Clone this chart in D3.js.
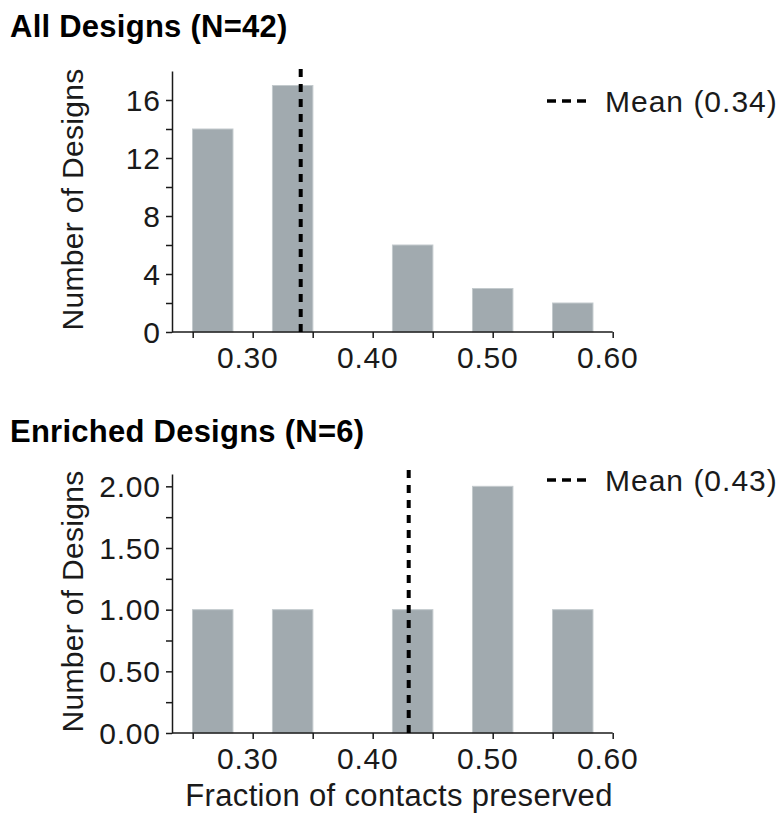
<!DOCTYPE html>
<html>
<head>
<meta charset="utf-8">
<script src="https://cdn.jsdelivr.net/npm/d3@7"></script>
<style>
  html, body { margin: 0; padding: 0; background: #fff; }
  svg { display: block; font-family: "Liberation Sans", Arial, Helvetica, sans-serif; }
</style>
</head>
<body>
<svg id="chart" width="778" height="820"></svg>
<script>
// Bin centres (fraction of contacts preserved) and bin width
const binCenters = [0.2667, 0.3333, 0.4333, 0.5, 0.5667];
const binWidth = 0.0337;

// Counts per bin
const allCounts = [14, 17, 6, 3, 2];
const enrichedCounts = [1, 1, 1, 2, 1];

// Means
const allMean = 0.34;
const enrichedMean = 0.43;

// Tick values
const xTickValues = [0.25, 0.30, 0.35, 0.40, 0.45, 0.50, 0.55, 0.60];
const xLabelValues = [0.30, 0.40, 0.50, 0.60];
const allYTicks = [0, 2, 4, 6, 8, 10, 12, 14, 16];
const allYLabels = [0, 4, 8, 12, 16];
const enrichedYTicks = [0, 0.25, 0.5, 0.75, 1, 1.25, 1.5, 1.75, 2];
const enrichedYLabels = [0, 0.5, 1, 1.5, 2];

const panels = [
  { title: "All Designs (N=42)", counts: allCounts, mean: allMean,
    yMax: 18, top: 71, bottom: 332, yTicks: allYTicks, yLabels: allYLabels,
    yFmt: d3.format("d"), titleY: 37, legendY: 101, meanTop: 69 },
  { title: "Enriched Designs (N=6)", counts: enrichedCounts, mean: enrichedMean,
    yMax: 2.1, top: 474, bottom: 733, yTicks: enrichedYTicks, yLabels: enrichedYLabels,
    yFmt: d3.format(".2f"), titleY: 442, legendY: 480, meanTop: 470 }
];

const svg = d3.select("#chart");
const x = d3.scaleLinear().domain([0.25, 0.60]).range([192.7, 612.7]);
const axisX = 172;
const ink = "#1a1a1a";

panels.forEach((p, i) => {
  const y = d3.scaleLinear().domain([0, p.yMax]).range([p.bottom, p.top]);
  const g = svg.append("g");

  // panel title
  g.append("text")
    .attr("x", 10).attr("y", p.titleY)
    .attr("font-size", 31).attr("font-weight", "bold").attr("fill", "#000")
    .attr("letter-spacing", 0.25)
    .text(p.title);

  // bars
  g.selectAll("rect.bar")
    .data(p.counts.map((c, j) => ({ c: c, x0: binCenters[j] - binWidth / 2, x1: binCenters[j] + binWidth / 2 })))
    .join("rect")
    .attr("class", "bar")
    .attr("x", d => x(d.x0))
    .attr("width", d => x(d.x1) - x(d.x0))
    .attr("y", d => y(d.c))
    .attr("height", d => y(0) - y(d.c))
    .attr("fill", "#a1aaaf")
    .attr("stroke", "#c3cacd")
    .attr("stroke-width", 1);

  // x axis
  const xAxis = g.append("g").attr("transform", `translate(0,${p.bottom})`)
    .call(d3.axisBottom(x).tickValues(xTickValues).tickSize(6).tickSizeOuter(0).tickFormat(""));
  xAxis.select(".domain").attr("d", `M${axisX},0H${x(0.60)}`);
  xAxis.selectAll("path, line").attr("stroke", ink).attr("stroke-width", 1.5);

  g.selectAll("text.xlab")
    .data(xLabelValues)
    .join("text")
    .attr("class", "xlab")
    .attr("x", d => x(d)).attr("dx", -5)
    .attr("y", p.bottom + 36)
    .attr("text-anchor", "middle")
    .attr("font-size", 30).attr("fill", ink)
    .attr("letter-spacing", 0.8)
    .text(d => d3.format(".2f")(d));

  // y axis
  const yAxis = g.append("g").attr("transform", `translate(${axisX},0)`)
    .call(d3.axisLeft(y).tickValues(p.yTicks).tickSize(6).tickSizeOuter(0).tickFormat(""));
  yAxis.selectAll("path, line").attr("stroke", ink).attr("stroke-width", 1.5);

  g.selectAll("text.ylab")
    .data(p.yLabels)
    .join("text")
    .attr("class", "ylab")
    .attr("x", axisX - 11.2)
    .attr("y", d => y(d))
    .attr("dy", "0.36em")
    .attr("text-anchor", "end")
    .attr("font-size", 30).attr("fill", ink)
    .attr("letter-spacing", 0.8)
    .text(d => p.yFmt(d));

  // y axis title
  g.append("text")
    .attr("transform", `translate(83,${(p.top + p.bottom) / 2 - 2}) rotate(-90)`)
    .attr("text-anchor", "middle")
    .attr("font-size", 30).attr("fill", ink)
    .attr("letter-spacing", 0.3)
    .text("Number of Designs");

  // mean line
  g.append("line")
    .attr("x1", x(p.mean)).attr("x2", x(p.mean))
    .attr("y1", p.meanTop).attr("y2", p.bottom)
    .attr("stroke", "#000").attr("stroke-width", 4)
    .attr("stroke-dasharray", "8,7");

  // legend
  g.append("line")
    .attr("x1", 547).attr("x2", 587)
    .attr("y1", p.legendY).attr("y2", p.legendY)
    .attr("stroke", "#000").attr("stroke-width", 3.5)
    .attr("stroke-dasharray", "9,6");
  g.append("text")
    .attr("x", 605).attr("y", p.legendY).attr("dy", "0.36em")
    .attr("font-size", 30).attr("fill", ink)
    .attr("letter-spacing", 1.0)
    .text(`Mean (${d3.format(".2f")(p.mean)})`);
});

// shared x axis title
svg.append("text")
  .attr("x", 399).attr("y", 806)
  .attr("text-anchor", "middle")
  .attr("font-size", 31).attr("fill", ink)
  .attr("letter-spacing", 0.35)
  .text("Fraction of contacts preserved");
</script>
</body>
</html>
